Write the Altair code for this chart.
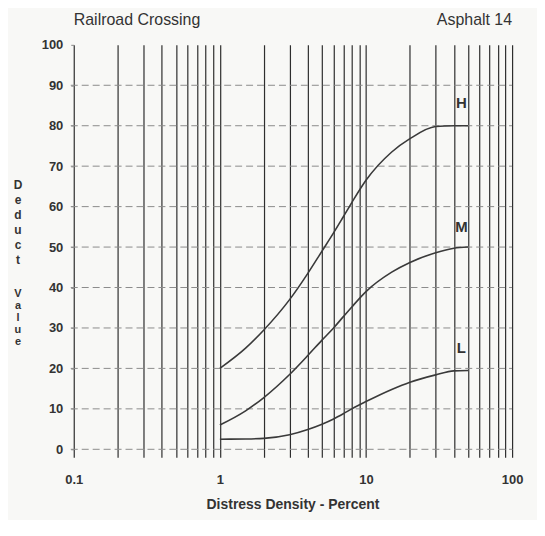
import altair as alt
import pandas as pd

# ---- data ----
x_points = [1, 1.5, 2, 3, 4, 5, 6, 7, 8, 10, 15, 20, 30, 40, 50]
h_values = [20, 25, 29.5, 37, 43.5, 49, 53.5, 57.5, 61, 66.5, 73.5, 76.8, 79.8, 80, 80]
m_values = [6, 9.5, 12.8, 18.5, 23.2, 27, 30, 32.8, 35.2, 39, 43.8, 46.2, 48.6, 49.7, 50]
l_values = [2.5, 2.55, 2.7, 3.6, 4.9, 6.2, 7.5, 8.8, 10, 11.8, 14.8, 16.6, 18.4, 19.4, 19.5]

series_names = ["H", "M", "L"]
label_x = [45, 45, 45]
label_y = [85.5, 55, 25]

x_grid = [0.1, 0.2, 0.3, 0.4, 0.5, 0.6, 0.7, 0.8, 0.9,
          1, 2, 3, 4, 5, 6, 7, 8, 9,
          10, 20, 30, 40, 50, 60, 70, 80, 90, 100]
x_labels = [0.1, 1, 10, 100]
y_ticks = [0, 10, 20, 30, 40, 50, 60, 70, 80, 90, 100]
y_grid = [0, 10, 20, 30, 40, 50, 60, 70, 80, 90]

title_left = "Railroad Crossing"
title_right = "Asphalt 14"
x_title = "Distress Density - Percent"
y_title_1 = "D\ne\nd\nu\nc\nt"
y_title_2 = "V\na\nl\nu\ne"

FONT = "Liberation Sans"
INK = "#2e2e2e"

rows = []
for name, vals in zip(series_names, [h_values, m_values, l_values]):
    for xv, yv in zip(x_points, vals):
        rows.append({"s": name, "d": xv, "v": yv})
curves_df = pd.DataFrame(rows)
labels_df = pd.DataFrame({"s": series_names, "d": label_x, "v": label_y})
hgrid_df = pd.DataFrame({"v": y_grid})

xscale = alt.Scale(type="log", domain=[0.1, 100], nice=False)
yscale = alt.Scale(domain=[0, 100], nice=False, zero=True)

label_expr = "indexof([" + ",".join(str(v) for v in x_labels) + "], datum.value) >= 0 ? format(datum.value, '~g') : ''"

x_axis = alt.Axis(
    values=x_grid, grid=True, gridColor=INK, gridWidth=1.2,
    ticks=True, tickSize=8, tickColor=INK, tickWidth=1.2,
    domain=False, labelExpr=label_expr, labelFont=FONT, labelFontSize=13,
    labelFontWeight="bold", labelColor="#333", labelPadding=16,
    labelOverlap=False, labelFlush=False, title=None,
)
y_axis = alt.Axis(
    values=y_ticks, grid=False, domain=False, ticks=True, tickSize=3,
    tickColor="#888", labelFont=FONT, labelFontSize=13, labelFontWeight="bold",
    labelColor="#333", labelPadding=8, title=None,
)

hgrid = alt.Chart(hgrid_df).mark_rule(
    color="#8c8c8c", strokeDash=[7, 4], strokeWidth=1
).encode(
    y=alt.Y("v:Q", scale=yscale, axis=y_axis),
    x=alt.value(-3), x2=alt.value(440),
)

curves = alt.Chart(curves_df).mark_line(
    interpolate="monotone", color="#3a3a3a", strokeWidth=1.6
).encode(
    x=alt.X("d:Q", scale=xscale, axis=x_axis),
    y=alt.Y("v:Q", scale=yscale, axis=y_axis),
    detail="s:N",
)

end_labels = alt.Chart(labels_df).mark_text(
    font=FONT, fontSize=15, fontWeight="bold", color="#333", baseline="middle"
).encode(
    x=alt.X("d:Q", scale=xscale),
    y=alt.Y("v:Q", scale=yscale),
    text="s:N",
)

def annot(text, x, y, align="center", size=13, weight="bold", line_height=None):
    kw = dict(font=FONT, fontSize=size, fontWeight=weight, color="#333",
              align=align, baseline="middle")
    if line_height is not None:
        kw["lineBreak"] = "\n"
        kw["lineHeight"] = line_height
    return alt.Chart(pd.DataFrame({"t": [text]})).mark_text(**kw).encode(
        text="t:N", x=alt.value(x), y=alt.value(y)
    )

t1 = annot(title_left, 0, -25, align="left", size=16, weight="normal")
t2 = annot(title_right, 440, -25, align="right", size=16, weight="normal")
xt = annot(x_title, 220, 462, size=14)
yt1 = annot(y_title_1, -56, 141, size=12, line_height=15)
yt2 = annot(y_title_2, -56, 250, size=11, line_height=12)

chart = alt.layer(hgrid, curves, end_labels, t1, t2, xt, yt1, yt2).properties(
    width=440, height=406,
    autosize=alt.AutoSizeParams(type="none"),
    padding={"left": 66, "top": 36, "right": 25, "bottom": 70},
    background="#f8f8f6",
).configure_view(stroke=None)

chart.save("out.html", embed_options={"renderer": "svg", "actions": False})
